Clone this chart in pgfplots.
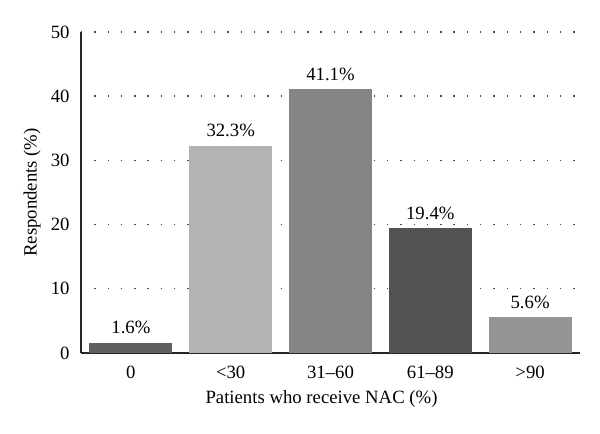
\documentclass[border=0pt]{standalone}
\usepackage{pgfplots}
\pgfplotsset{compat=1.18}
\usepackage{fontspec}
\setmainfont{Liberation Serif}
\definecolor{barA}{HTML}{5F5F5F}
\definecolor{barB}{HTML}{B3B3B3}
\definecolor{barC}{HTML}{858585}
\definecolor{barD}{HTML}{525252}
\definecolor{barE}{HTML}{959595}
\begin{document}
\fontsize{18.8}{22}\selectfont
\begin{tikzpicture}
\begin{axis}[
  scale only axis, width=499bp, height=321bp,
  xmin=-0.5, xmax=4.5, ymin=0, ymax=50,
  axis x line=bottom, axis y line=left,
  axis line style={-, line width=1.3bp, black!85},
  xtick={0,1,2,3,4},
  xticklabels={0,{<30},{31--60},{61--89},{>90}},
  ytick={0,10,20,30,40,50},
  major tick length=0pt,
  /pgf/number format/assume math mode=true,
  tick label style={font=\fontsize{18.8}{22}\selectfont},
  xticklabel style={anchor=base, yshift=-25.5bp},
  yticklabel style={xshift=-5bp},
  ymajorgrids,
  grid style={black!70, line width=1.4bp, dash pattern=on 1.4bp off 11.9bp},
  xlabel={Patients who receive NAC (\%)},
  ylabel={Respondents (\%)},
  label style={font=\fontsize{18.8}{22}\selectfont},
  every axis x label/.style={at={(axis description cs:0.482,-0.143)}, anchor=center},
  every axis y label/.style={at={(axis description cs:-0.098,0.5)}, anchor=center, rotate=90},
  ybar, bar width=83bp, bar shift=0pt,
  point meta=explicit symbolic,
  nodes near coords,
  every node near coord/.append style={anchor=base, yshift=9bp, font=\fontsize{18.8}{22}\selectfont, black},
]
\addplot[fill=barA, draw=none] coordinates {(0,1.6) [1.6\%]};
\addplot[fill=barB, draw=none] coordinates {(1,32.3) [32.3\%]};
\addplot[fill=barC, draw=none] coordinates {(2,41.1) [41.1\%]};
\addplot[fill=barD, draw=none] coordinates {(3,19.4) [19.4\%]};
\addplot[fill=barE, draw=none] coordinates {(4,5.6) [5.6\%]};
\end{axis}
\path (current axis.south west) ++(-81bp,-81bp);
\path (current axis.north east) ++(20bp,32bp);
\end{tikzpicture}
\end{document}
